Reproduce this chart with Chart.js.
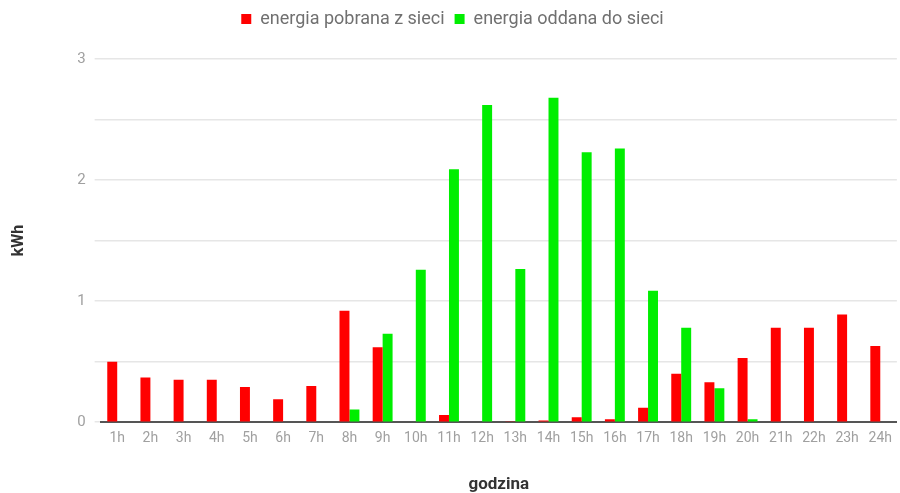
<!DOCTYPE html>
<html>
<head>
<meta charset="utf-8">
<script src="https://cdn.jsdelivr.net/npm/chart.js@4/dist/chart.umd.min.js"></script>
<style>
  html, body { margin: 0; padding: 0; background: #fff; }
  #wrap { width: 900px; height: 493px; }
</style>
</head>
<body>
<div id="wrap"><canvas id="c"></canvas></div>
<script>
// Hourly grid energy exchange (kWh)
const hours = ['1h','2h','3h','4h','5h','6h','7h','8h','9h','10h','11h','12h',
               '13h','14h','15h','16h','17h','18h','19h','20h','21h','22h','23h','24h'];
const drawnFromGrid = [0.50, 0.37, 0.35, 0.35, 0.29, 0.19, 0.30, 0.92, 0.62, 0.005, 0.06, 0,
                       0.003, 0.015, 0.04, 0.025, 0.12, 0.40, 0.33, 0.53, 0.78, 0.78, 0.89, 0.63];
const fedToGrid = [0, 0, 0, 0, 0, 0, 0, 0.105, 0.73, 1.26, 2.09, 2.62,
                   1.265, 2.68, 2.23, 2.26, 1.085, 0.78, 0.28, 0.025, 0, 0, 0, 0];
const yTickLabels = [0, 1, 2, 3];
const seriesNames = ['energia pobrana z sieci', 'energia oddana do sieci'];

Chart.defaults.font.family = 'Roboto, "Noto Sans", sans-serif';

// extra room under the legend
const legendGap = {
  id: 'legendGap',
  beforeInit(chart) {
    const fit = chart.legend.fit;
    chart.legend.fit = function () {
      fit.call(this);
      this.height += 21;
    };
  }
};

new Chart(document.getElementById('c'), {
  type: 'bar',
  data: {
    labels: hours,
    datasets: [
      { label: seriesNames[0], data: drawnFromGrid, backgroundColor: '#ff0000',
        categoryPercentage: 0.6, barPercentage: 1.0 },
      { label: seriesNames[1], data: fedToGrid, backgroundColor: '#00ee00',
        categoryPercentage: 0.6, barPercentage: 1.0 }
    ]
  },
  plugins: [legendGap],
  options: {
    responsive: true,
    maintainAspectRatio: false,
    animation: false,
    layout: { padding: { left: 5, right: 0, top: 0, bottom: 0 } },
    plugins: {
      legend: {
        position: 'top',
        labels: {
          boxWidth: 10, boxHeight: 10, color: '#707070',
          font: { size: 18 }, padding: 10
        }
      },
      tooltip: { enabled: false }
    },
    scales: {
      x: {
        grid: { display: false, drawTicks: false },
        border: { color: '#555', width: 2 },
        ticks: { color: '#a0a0a0', font: { size: 14 }, padding: 8, maxRotation: 0, autoSkip: false },
        title: { display: true, text: 'godzina', color: '#333', font: { size: 17, weight: 'bold', lineHeight: 1 }, padding: { top: 21, bottom: 0 } }
      },
      y: {
        min: 0, max: 3,
        ticks: {
          stepSize: 0.5, color: '#a0a0a0', font: { size: 15 }, padding: 9,
          callback: v => yTickLabels.includes(v) ? String(v) : ''
        },
        grid: { color: '#e6e6e6', lineWidth: 1.5, tickLength: 6 },
        border: { display: false },
        title: { display: true, text: 'kWh', color: '#333', font: { size: 16, weight: 'bold' }, padding: { bottom: 40 } }
      }
    }
  }
});
</script>
</body>
</html>
